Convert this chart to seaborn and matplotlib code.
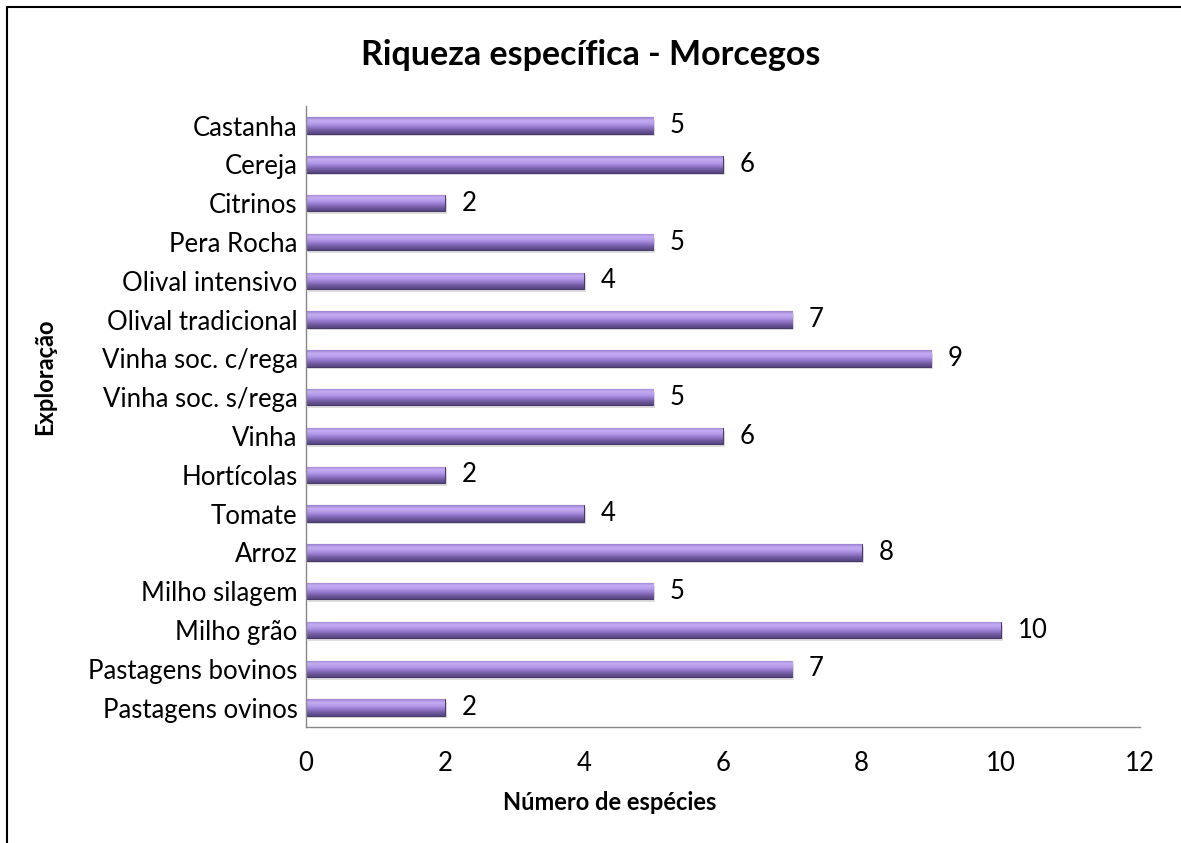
import numpy as np
import pandas as pd
import matplotlib
matplotlib.use("Agg")
import matplotlib.pyplot as plt
import matplotlib.colors as mcolors
from matplotlib.patches import Rectangle
from matplotlib.lines import Line2D
import seaborn as sns

# dados
exploracoes = ["Castanha", "Cereja", "Citrinos", "Pera Rocha", "Olival intensivo",
               "Olival tradicional", "Vinha soc. c/rega", "Vinha soc. s/rega", "Vinha",
               "Hortícolas", "Tomate", "Arroz", "Milho silagem", "Milho grão",
               "Pastagens bovinos", "Pastagens ovinos"]
especies = [5, 6, 2, 5, 4, 7, 9, 5, 6, 2, 4, 8, 5, 10, 7, 2]

df = pd.DataFrame({"Exploração": exploracoes, "Número de espécies": especies})

sns.set_style("white")
plt.rcParams["font.family"] = ["Lato", "DejaVu Sans"]
plt.rcParams["text.color"] = "black"

fig = plt.figure(figsize=(11.81, 8.43), dpi=100)
ax = fig.add_axes([0.259, 0.1376, 0.706, 0.7364])

sns.barplot(data=df, x="Número de espécies", y="Exploração", color="#8a6fc0",
            width=0.42, ax=ax, orient="h")

# gradiente nas barras (claro em cima, escuro em baixo)
grad = mcolors.LinearSegmentedColormap.from_list(
    "roxo", ["#9a80cf", "#c6aef4", "#b59ae8", "#9478cc", "#715a9f", "#564380"])
for p in ax.patches:
    x0, y0 = p.get_x(), p.get_y()
    w, h = p.get_width(), p.get_height()
    # sombra
    ax.add_patch(Rectangle((x0 + 0.03, y0 + 0.07), w, h, facecolor="#000000",
                           alpha=0.13, edgecolor="none", zorder=1))
    img = ax.imshow(np.linspace(0, 1, 64).reshape(-1, 1), cmap=grad, aspect="auto",
                    extent=(x0, x0 + w, y0 + h, y0), zorder=2, interpolation="bicubic")
    img.set_clip_path(p)
    p.set_zorder(2)
    p.set_edgecolor("#4a3a6a")
    p.set_linewidth(0.8)

for i, v in enumerate(especies):
    ax.text(v + 0.24, i, str(v), va="center", ha="left", fontsize=18.5, color="black")

ax.set_xlim(0, 12)
ax.set_ylim(len(exploracoes) - 0.5, -0.5)
ax.set_xticks(range(0, 13, 2))
ax.tick_params(axis="both", labelsize=18.5, colors="black")
ax.tick_params(axis="x", direction="out", length=7, width=1, color="#888888", pad=10)
ax.set_yticks(np.arange(-0.5, len(exploracoes), 1), minor=True)
ax.tick_params(axis="y", which="major", length=0, pad=6)
ax.tick_params(axis="y", which="minor", length=7, width=1, color="#888888")

for s in ["top", "right"]:
    ax.spines[s].set_visible(False)
for s in ["left", "bottom"]:
    ax.spines[s].set_color("#888888")
    ax.spines[s].set_linewidth(1)

ax.set_xlabel("")
ax.set_ylabel("")
fig.text(610 / 1181, 1 - 803 / 843, "Número de espécies", fontsize=17, fontweight="bold",
         ha="center", va="center")
fig.text(45 / 1181, 1 - 377 / 843, "Exploração", fontsize=17, fontweight="bold",
         ha="center", va="center", rotation=90)
fig.text(0.5, 1 - 55 / 843, "Riqueza específica - Morcegos", fontsize=24.5,
         fontweight="bold", ha="center", va="center")

# moldura (só esquerda e topo visíveis)
fig.add_artist(Line2D([7 / 1181, 7 / 1181], [0, 1 - 7 / 843], transform=fig.transFigure,
                      color="black", linewidth=1.5))
fig.add_artist(Line2D([7 / 1181, 1], [1 - 7 / 843, 1 - 7 / 843], transform=fig.transFigure,
                      color="black", linewidth=1.5))

fig.savefig("out.png", dpi=100)
